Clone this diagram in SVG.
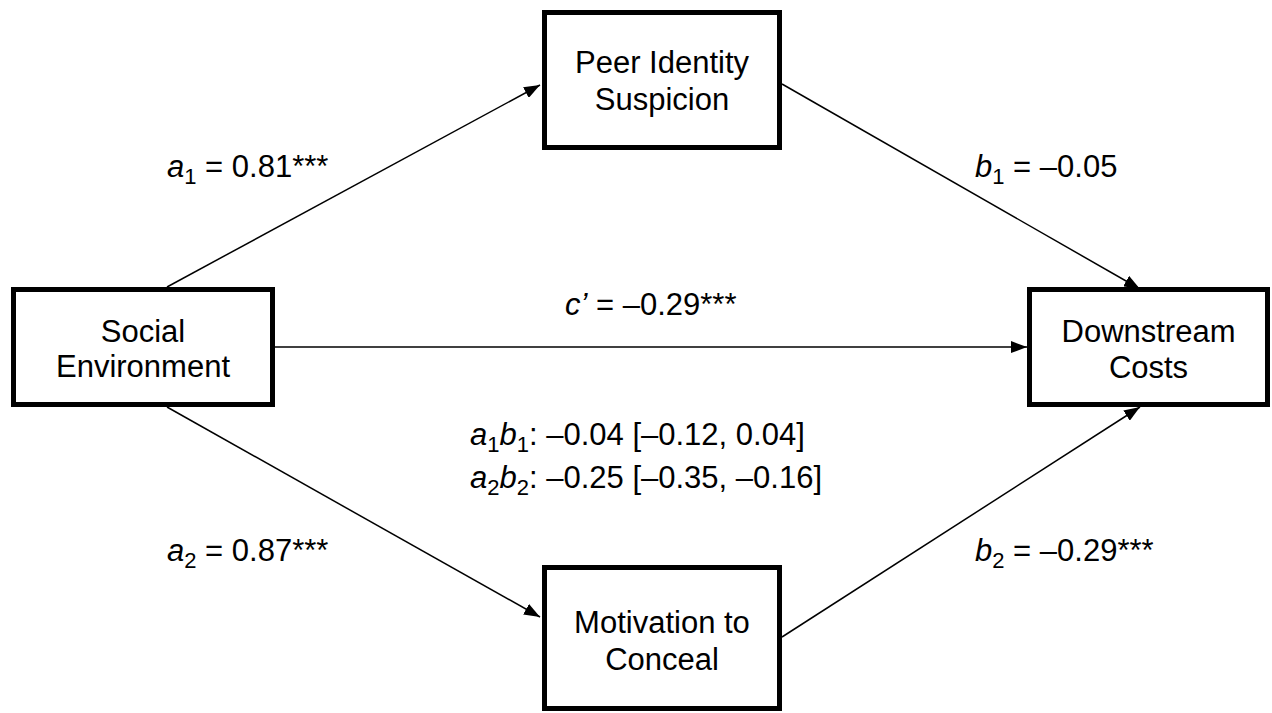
<svg xmlns="http://www.w3.org/2000/svg" width="1272" height="713" viewBox="0 0 1272 713">
<style>
.box{fill:#fff;stroke:#000;stroke-width:5}
.lbl{font-family:"Liberation Sans",Arial,sans-serif;font-size:31px;fill:#000}
.bt{text-anchor:middle}
.it{font-style:italic}
.sub{font-size:22px}
.edge{stroke:#000;stroke-width:1.5;fill:none;marker-end:url(#ah)}
</style>
<defs>
<marker id="ah" markerUnits="userSpaceOnUse" markerWidth="16" markerHeight="12" refX="16" refY="6" orient="auto">
<path d="M0,0 L16,6 L0,12 z" fill="#000"/>
</marker>
</defs>
<rect width="1272" height="713" fill="#fff"/>
<g id="connectors">
<line class="edge" x1="167" y1="287" x2="540" y2="85"/>
<line class="edge" x1="782" y1="84" x2="1140" y2="289"/>
<line class="edge" x1="275" y1="347" x2="1027" y2="347"/>
<line class="edge" x1="167" y1="407" x2="540" y2="617"/>
<line class="edge" x1="782" y1="637" x2="1140" y2="407"/>
</g>
<g id="social">
<rect class="box" x="13.5" y="289.5" width="259" height="115"/>
<text class="lbl bt" x="143" y="342">Social</text>
<text class="lbl bt" x="143" y="377">Environment</text>
</g>
<g id="peer">
<rect class="box" x="544.5" y="12.5" width="235" height="135"/>
<text class="lbl bt" x="662" y="73">Peer Identity</text>
<text class="lbl bt" x="662" y="110">Suspicion</text>
</g>
<g id="downstream">
<rect class="box" x="1029.5" y="289.5" width="238" height="115"/>
<text class="lbl bt" x="1148.5" y="342">Downstream</text>
<text class="lbl bt" x="1148.5" y="378">Costs</text>
</g>
<g id="motivation">
<rect class="box" x="544.5" y="567.5" width="235" height="141"/>
<text class="lbl bt" x="662" y="633">Motivation to</text>
<text class="lbl bt" x="662" y="670">Conceal</text>
</g>
<g id="labels">
<text class="lbl" x="167" y="177"><tspan class="it">a</tspan><tspan class="sub" dy="7">1</tspan><tspan dy="-7"> = 0.81***</tspan></text>
<text class="lbl" x="975" y="177"><tspan class="it">b</tspan><tspan class="sub" dy="7">1</tspan><tspan dy="-7"> = –0.05</tspan></text>
<text class="lbl" x="565" y="315"><tspan class="it">c’</tspan> = –0.29***</text>
<text class="lbl" x="167" y="561"><tspan class="it">a</tspan><tspan class="sub" dy="7">2</tspan><tspan dy="-7"> = 0.87***</tspan></text>
<text class="lbl" x="975" y="561"><tspan class="it">b</tspan><tspan class="sub" dy="7">2</tspan><tspan dy="-7"> = –0.29***</tspan></text>
<text class="lbl" x="470" y="445"><tspan class="it">a</tspan><tspan class="sub" dy="7">1</tspan><tspan class="it" dy="-7">b</tspan><tspan class="sub" dy="7">1</tspan><tspan dy="-7">: –0.04 [–0.12, 0.04]</tspan></text>
<text class="lbl" x="470" y="488"><tspan class="it">a</tspan><tspan class="sub" dy="7">2</tspan><tspan class="it" dy="-7">b</tspan><tspan class="sub" dy="7">2</tspan><tspan dy="-7">: –0.25 [–0.35, –0.16]</tspan></text>
</g>
</svg>
